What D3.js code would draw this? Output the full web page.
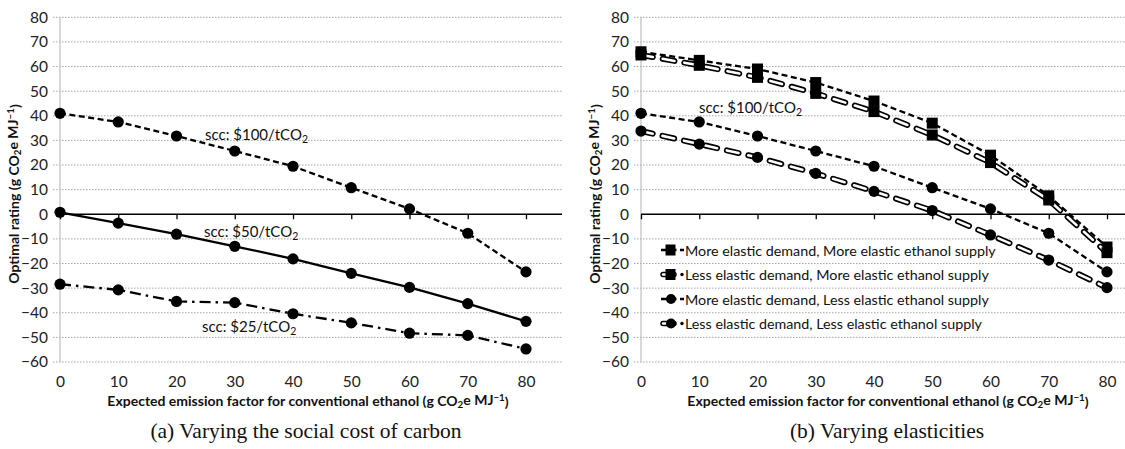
<!DOCTYPE html>
<html><head><meta charset="utf-8">
<script src="https://cdn.jsdelivr.net/npm/d3@7"></script>
<style>
body{margin:0;background:#fff;}
svg{display:block;}
text{font-family:Lato, "Open Sans", sans-serif;}
</style></head>
<body><svg id="c" width="1125" height="449"></svg>
<script>
// ---- data ----
const categories = [0, 10, 20, 30, 40, 50, 60, 70, 80];
const yTickValues = [80, 70, 60, 50, 40, 30, 20, 10, 0, -10, -20, -30, -40, -50, -60];

// panel (a)
const scc100 = [41, 37.5, 31.8, 25.7, 19.5, 10.8, 2.2, -7.7, -23.4];
const scc50 = [0.8, -3.6, -8.1, -13, -18.1, -24, -29.7, -36.3, -43.5];
const scc25 = [-28.4, -30.7, -35.4, -35.9, -40.4, -44.1, -48.3, -49.2, -54.7];
const sccLabels = ["$100", "$50", "$25"];

// panel (b)
const moreDemMoreSup = [66, 62.5, 59, 53.5, 46, 37, 24, 7.5, -13.3];
const lessDemMoreSup = [64.7, 60.5, 55.6, 49.1, 41.7, 32.2, 21, 5.8, -15.6];
const moreDemLessSup = [41, 37.5, 31.8, 25.7, 19.5, 10.8, 2.2, -7.7, -23.4];
const lessDemLessSup = [33.8, 28.5, 23.1, 16.6, 9.3, 1.5, -8.4, -18.6, -29.8];
const legendNames = [
  "More elastic demand, More elastic ethanol supply",
  "Less elastic demand, More elastic ethanol supply",
  "More elastic demand, Less elastic ethanol supply",
  "Less elastic demand, Less elastic ethanol supply"
];
const captions = ["(a) Varying the social cost of carbon", "(b) Varying elasticities"];

// ---- drawing ----
const svg = d3.select("#c");
const yTop = 17.3, yBot = 362;

function addCO2(sel, prefix, suffix) {
  sel.append("tspan").text(prefix + "CO");
  sel.append("tspan").attr("font-size", "0.7em").attr("dy", "0.25em").text("2");
  sel.append("tspan").attr("dy", "-0.25em").text(suffix);
}
function addUnit(sel, before) {
  sel.append("tspan").text(before + "(g CO");
  sel.append("tspan").attr("font-size", "0.7em").attr("dy", "0.25em").text("2");
  sel.append("tspan").attr("dy", "-0.25em").text("e MJ");
  sel.append("tspan").attr("font-size", "0.7em").attr("dy", "-0.45em").text("\u22121");
  sel.append("tspan").attr("dy", "0.45em").text(")");
}

function panel(opt) {
  const g = svg.append("g");
  const x = d3.scaleLinear().domain([0, 80]).range([opt.x0, opt.x80]);
  const y = d3.scaleLinear().domain([-60, 80]).range([yBot, yTop]);

  // gridlines
  g.append("g").selectAll("line").data(yTickValues.filter(v => v !== 0)).join("line")
    .attr("x1", opt.x0 - 7).attr("x2", opt.right)
    .attr("y1", d => y(d)).attr("y2", d => y(d))
    .attr("stroke", "#a6a6a6").attr("stroke-width", 1).attr("stroke-dasharray", "1.5,1.5");

  // y axis line
  g.append("line").attr("x1", opt.x0).attr("x2", opt.x0).attr("y1", yTop).attr("y2", yBot)
    .attr("stroke", "#bfbfbf").attr("stroke-width", 1.2);

  // y tick labels
  const ya = d3.axisLeft(y).tickValues(yTickValues).tickSize(0).tickPadding(opt.x0 - opt.labelRight);
  const yg = g.append("g").attr("transform", `translate(${opt.x0},0)`).call(ya);
  yg.select(".domain").remove();
  yg.selectAll("text").attr("font-size", 15.5).attr("fill", "#222").style("font-family", "Lato, sans-serif");

  // zero line with downward ticks
  const xa = d3.axisBottom(x).tickValues(categories).tickSize(5).tickFormat("");
  const xg = g.append("g").attr("transform", `translate(0,${y(0)})`).call(xa);
  xg.select(".domain").remove();
  xg.selectAll("line").attr("stroke", "#000").attr("stroke-width", 1.3);
  g.append("line").attr("x1", opt.x0).attr("x2", opt.right).attr("y1", y(0)).attr("y2", y(0))
    .attr("stroke", "#000").attr("stroke-width", 1.5);

  // x tick labels at the bottom
  const xb = d3.axisBottom(x).tickValues(categories).tickSize(0).tickPadding(14).tickFormat(d3.format("d"));
  const xbg = g.append("g").attr("transform", `translate(0,${yBot})`).call(xb);
  xbg.select(".domain").remove();
  xbg.selectAll("text").attr("font-size", 15.5).attr("fill", "#222").style("font-family", "Lato, sans-serif");

  // axis titles
  const xt = g.append("text").attr("x", opt.titleX).attr("y", 406).attr("text-anchor", "middle")
    .attr("font-size", 14).attr("font-weight", "bold").attr("fill", "#111");
  addUnit(xt, "Expected emission factor for conventional ethanol ");
  const yt = g.append("text").attr("transform", `translate(${opt.x0 - 41},194) rotate(-90)`)
    .attr("text-anchor", "middle").attr("font-size", 14).attr("font-weight", "bold").attr("fill", "#111");
  addUnit(yt, "Optimal rating ");

  // caption
  g.append("text").attr("x", opt.capX).attr("y", 438).attr("text-anchor", "middle")
    .attr("font-size", 21.5).attr("fill", "#111")
    .style("font-family", "'Liberation Serif', 'DejaVu Serif', serif").text(opt.caption);

  return {g, x, y};
}

function drawSeries(p, values, style) {
  const line = d3.line().x((d, i) => p.x(categories[i])).y(d => p.y(d));
  const gs = p.g.append("g");
  if (style.type === "hollow") {
    gs.append("path").attr("d", line(values)).attr("fill", "none").attr("stroke", "#000")
      .attr("stroke-width", 6).attr("stroke-dasharray", "12,10").attr("stroke-linecap", "round");
    gs.append("path").attr("d", line(values)).attr("fill", "none").attr("stroke", "#fff")
      .attr("stroke-width", 2.6).attr("stroke-dasharray", "12,10").attr("stroke-linecap", "round");
  } else {
    gs.append("path").attr("d", line(values)).attr("fill", "none").attr("stroke", "#000")
      .attr("stroke-width", 2.3).attr("stroke-dasharray", style.dash || null);
  }
  if (style.marker === "square") {
    gs.selectAll("rect").data(values).join("rect")
      .attr("x", (d, i) => p.x(categories[i]) - 5.5).attr("y", d => p.y(d) - 5.5)
      .attr("width", 11).attr("height", 11).attr("fill", "#000");
  } else {
    gs.selectAll("circle").data(values).join("circle")
      .attr("cx", (d, i) => p.x(categories[i])).attr("cy", d => p.y(d)).attr("r", 5.6).attr("fill", "#000");
  }
}

// panel a
const pa = panel({x0: 60, x80: 526, right: 562, labelRight: 48, titleX: 308, capX: 306, caption: captions[0]});
drawSeries(pa, scc100, {dash: "6,3.5", marker: "circle"});
drawSeries(pa, scc50, {dash: null, marker: "circle"});
drawSeries(pa, scc25, {dash: "11,5,2.5,5", marker: "circle"});
const sccPos = [[205, 140], [204, 237], [202, 332]];
sccLabels.forEach((l, i) => {
  const t = pa.g.append("text").attr("x", sccPos[i][0]).attr("y", sccPos[i][1])
    .attr("font-size", 15).attr("fill", "#111");
  addCO2(t, "scc: " + l + "/t", "");
});

// panel b
const pb = panel({x0: 641, x80: 1107, right: 1125, labelRight: 629, titleX: 888, capX: 887, caption: captions[1]});
const bSeries = [
  [moreDemMoreSup, {dash: "6,3.5", marker: "square"}],
  [lessDemMoreSup, {type: "hollow", marker: "square"}],
  [moreDemLessSup, {dash: "6,3.5", marker: "circle"}],
  [lessDemLessSup, {type: "hollow", marker: "circle"}]
];
bSeries.forEach(s => drawSeries(pb, s[0], s[1]));
const tb = pb.g.append("text").attr("x", 699).attr("y", 113).attr("font-size", 15).attr("fill", "#111");
addCO2(tb, "scc: $100/t", "");

// legend
const lg = pb.g.append("g");
bSeries.forEach((s, i) => {
  const yy = 250 + i * 24.5;
  const row = lg.append("g");
  const st = s[1];
  if (st.type === "hollow") {
    row.append("line").attr("x1", 663).attr("x2", 674).attr("y1", yy).attr("y2", yy)
      .attr("stroke", "#000").attr("stroke-width", 5.5).attr("stroke-linecap", "round");
    row.append("line").attr("x1", 663).attr("x2", 674).attr("y1", yy).attr("y2", yy)
      .attr("stroke", "#fff").attr("stroke-width", 2.4).attr("stroke-linecap", "round");
    row.append("circle").attr("cx", 682).attr("cy", yy).attr("r", 1.7).attr("fill", "#000");
  } else {
    row.append("line").attr("x1", 661).attr("x2", 684).attr("y1", yy).attr("y2", yy)
      .attr("stroke", "#000").attr("stroke-width", 2.3).attr("stroke-dasharray", "6,3.5");
  }
  if (st.marker === "square") {
    row.append("rect").attr("x", 670.5 - 5).attr("y", yy - 5.5).attr("width", 10).attr("height", 11).attr("fill", "#000");
  } else {
    row.append("circle").attr("cx", 671).attr("cy", yy).attr("r", 5).attr("fill", "#000");
  }
  row.append("text").attr("x", 685).attr("y", yy + 5.5).attr("font-size", 14.3).attr("fill", "#111").text(legendNames[i]);
});
</script></body></html>
